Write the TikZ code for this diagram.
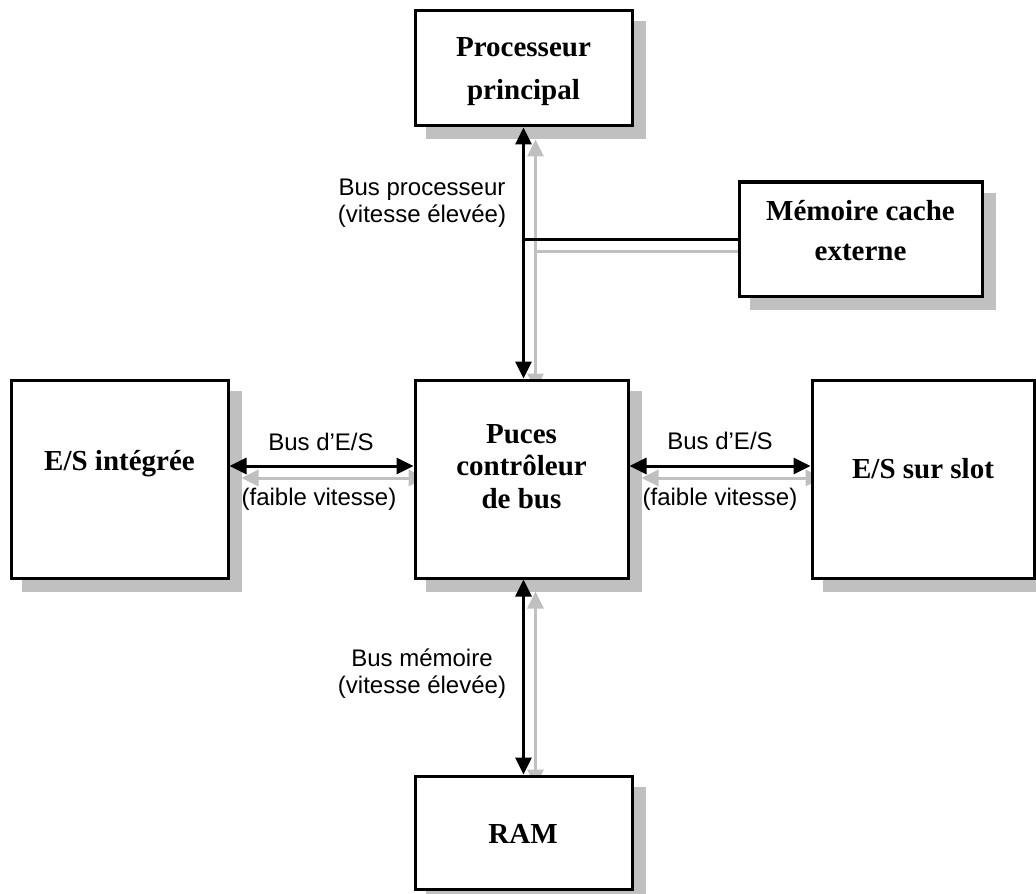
\documentclass[tikz,border=0pt]{standalone}
\usepackage{fontspec}
\setmainfont{Liberation Serif}
\setsansfont{Liberation Sans}
\usetikzlibrary{arrows.meta}
\definecolor{shadowgray}{RGB}{192,192,192}
\pgfdeclarelayer{background}
\pgfsetlayers{background,main}
\begin{document}
\begin{tikzpicture}[x=0.5pt,y=-0.5pt,
  box/.style={draw=black, line width=1.5pt, fill=white, inner sep=0pt},
  boxtext/.style={font=\bfseries\fontsize{14.5}{#1}\selectfont, align=center, anchor=base, inner sep=0pt},
  boxtext/.default=17,
  lbl/.style={font=\sffamily\fontsize{12}{13.25}\selectfont, align=center, anchor=base, inner sep=0pt},
  conn/.style={draw=black, line width=1.5pt},
  biarrow/.style={{Triangle[length=8.5pt,width=8pt]}-{Triangle[length=8.5pt,width=8pt]}},
  connshadow/.style={draw=shadowgray, line width=1.5pt, transform canvas={shift={(6pt,-6pt)}}},
  boxshadow/.style={fill=shadowgray}
]
\useasboundingbox (0,0) rectangle (1036,893);

% boxes
\node[box, minimum width=108.5pt, minimum height=57.5pt] (proc)   at (523.5,68.5) {};
\node[box, minimum width=121.5pt, minimum height=57pt]   (cache)  at (860.5,239) {};
\node[box, minimum width=106.5pt, minimum height=99pt]   (puces)  at (521.5,479) {};
\node[box, minimum width=108.5pt, minimum height=99pt]   (esint)  at (119.5,479) {};
\node[box, minimum width=111pt,   minimum height=99pt]   (esslot) at (923,479) {};
\node[box, minimum width=108.5pt, minimum height=56.5pt] (ram)    at (523.5,832.5) {};

% shadows (background layer)
\begin{pgfonlayer}{background}
  \foreach \n in {proc,cache,puces,esint,esslot,ram}{
    \fill[boxshadow] ([shift={(6pt,-6pt)}]\n.south west) rectangle ([shift={(6pt,-6pt)}]\n.north east);
  }
  \draw[connshadow, biarrow] (proc.south) -- (proc.south |- puces.north);
  \draw[connshadow] (proc.south |- cache.west) -- (cache.west);
  \draw[connshadow, biarrow] ([yshift=6.5pt]esint.east) -- ([yshift=6.5pt]puces.west);
  \draw[connshadow, biarrow] ([yshift=6.5pt]puces.east) -- ([yshift=6.5pt]esslot.west);
  \draw[connshadow, biarrow] (proc.south |- puces.south) -- (proc.south |- ram.north);
\end{pgfonlayer}

% connectors
\draw[conn, biarrow] (proc.south) -- (proc.south |- puces.north);
\draw[conn] (proc.south |- cache.west) -- (cache.west);
\draw[conn, biarrow] ([yshift=6.5pt]esint.east) -- ([yshift=6.5pt]puces.west);
\draw[conn, biarrow] ([yshift=6.5pt]puces.east) -- ([yshift=6.5pt]esslot.west);
\draw[conn, biarrow] (proc.south |- puces.south) -- (proc.south |- ram.north);

% box texts (anchor = baseline of last line)
\node[boxtext=21.5] (proct) at (523.5,100) {Processeur\\principal};
\node[boxtext=20] (cachet) at (860.5,260) {Mémoire cache\\externe};
\node[boxtext=16.25] (pucest) at (521.5,508) {Puces\\contrôleur\\de bus};
\node[boxtext] (esintt) at (119.5,470) {E/S intégrée};
\node[boxtext] (esslott) at (923,478) {E/S sur slot};
\node[boxtext] (ramt) at (523,843) {RAM};

% labels
\node[lbl] (lblproc) at (422,222) {Bus processeur\\(vitesse élevée)};
\node[lbl] (lblmem) at (422,693) {Bus mémoire\\(vitesse élevée)};
\node[lbl] (lblio1) at (321,450) {Bus d’E/S};
\node[lbl] (lblio2) at (319,505) {(faible vitesse)};
\node[lbl] (lblio3) at (720,449) {Bus d’E/S};
\node[lbl] (lblio4) at (720,505) {(faible vitesse)};
\end{tikzpicture}
\end{document}
